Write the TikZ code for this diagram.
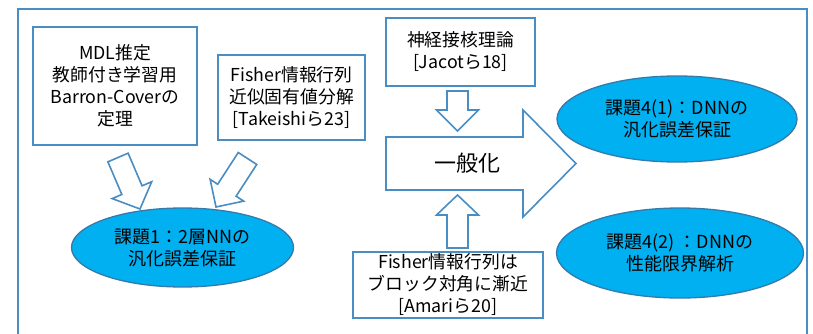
\documentclass[tikz,border=0pt]{standalone}
\usepackage{fontspec}
\setmainfont{Noto Sans CJK JP}
\usetikzlibrary{shapes.geometric,calc}
\definecolor{framecol}{RGB}{74,141,194}
\definecolor{ellfill}{RGB}{0,176,240}
\definecolor{elldraw}{RGB}{52,122,172}
\tikzset{
  txtbox/.style={draw=framecol, line width=1.6pt, fill=white, align=center,
    font=\fontsize{17.8}{22}\selectfont, inner sep=0pt},
  goal/.style={ellipse, draw=elldraw, line width=1.3pt, fill=ellfill, align=center,
    font=\fontsize{18}{22}\selectfont, inner sep=0pt},
  blockarr/.style={draw=framecol, line width=1.6pt, fill=white, line join=miter}
}
\newcommand\hollowarrow[5]{%
  \coordinate (hb) at ($(#2)!#5!(#1)$);
  \draw[blockarr] ($(#1)!#3!90:(#2)$) -- ($(hb)!#3!90:(#2)$) -- ($(hb)!#4!90:(#2)$) -- (#2)
    -- ($(hb)!#4!-90:(#2)$) -- ($(hb)!#3!-90:(#2)$) -- ($(#1)!#3!-90:(#2)$) -- cycle;}
\begin{document}
\begin{tikzpicture}[x=1pt,y=-1pt]
\useasboundingbox (0,0) rectangle (813,334);
\clip (0,0) rectangle (813,334);
\draw[framecol, line width=2pt] (18,9) rectangle (807,345);

% source boxes
\node[txtbox, minimum width=164pt, minimum height=118pt] (mdl) at (115,86)
  {MDL推定\\教師付き学習用\\Barron-Coverの\\定理};
\node[txtbox, minimum width=147pt, minimum height=85pt] (fisherA) at (291.5,97.5)
  {Fisher情報行列\\近似固有値分解\\{[}Takeishiら23{]}};
\node[txtbox, minimum width=149pt, minimum height=68pt] (ntk) at (460.5,52)
  {神経接核理論\\{[}Jacotら18{]}};
\node[txtbox, minimum width=190pt, minimum height=66pt] (fisherB) at (448,285)
  {Fisher情報行列は\\ブロック対角に漸近\\{[}Amariら20{]}};

% goals
\node[goal, minimum width=222pt, minimum height=79pt] (g1) at (182.5,247.5)
  {課題1：2層NNの\\汎化誤差保証};
\node[goal, minimum width=240pt, minimum height=86pt] (g41) at (677,119)
  {課題4(1)：DNNの\\汎化誤差保証};
\node[goal, minimum width=247pt, minimum height=90pt] (g42) at (680,253)
  {課題4(2) ：DNNの\\性能限界解析};

% big generalisation arrow
\draw[blockarr] (386,137) -- (523,137) -- (523,110) -- (576,163.5) -- (523,217)
  -- (523,190) -- (386,190) -- cycle;
\node[font=\fontsize{22}{24}\selectfont] (gen) at (467,163.5) {一般化};

% hollow arrows
\coordinate (a1t) at (118,157.5);
\coordinate (a1h) at (140,209);
\hollowarrow{a1t}{a1h}{11pt}{21.5pt}{20.5pt}
\coordinate (a2t) at (247.5,158.5);
\coordinate (a2h) at (216,207);
\hollowarrow{a2t}{a2h}{11pt}{20pt}{20pt}
\coordinate (a3t) at (457.5,91);
\coordinate (a3h) at (457.5,131);
\hollowarrow{a3t}{a3h}{10.5pt}{21pt}{21pt}
\coordinate (a4t) at (457.5,248);
\coordinate (a4h) at (457.5,195);
\hollowarrow{a4t}{a4h}{10.5pt}{21pt}{20pt}
\end{tikzpicture}
\end{document}
